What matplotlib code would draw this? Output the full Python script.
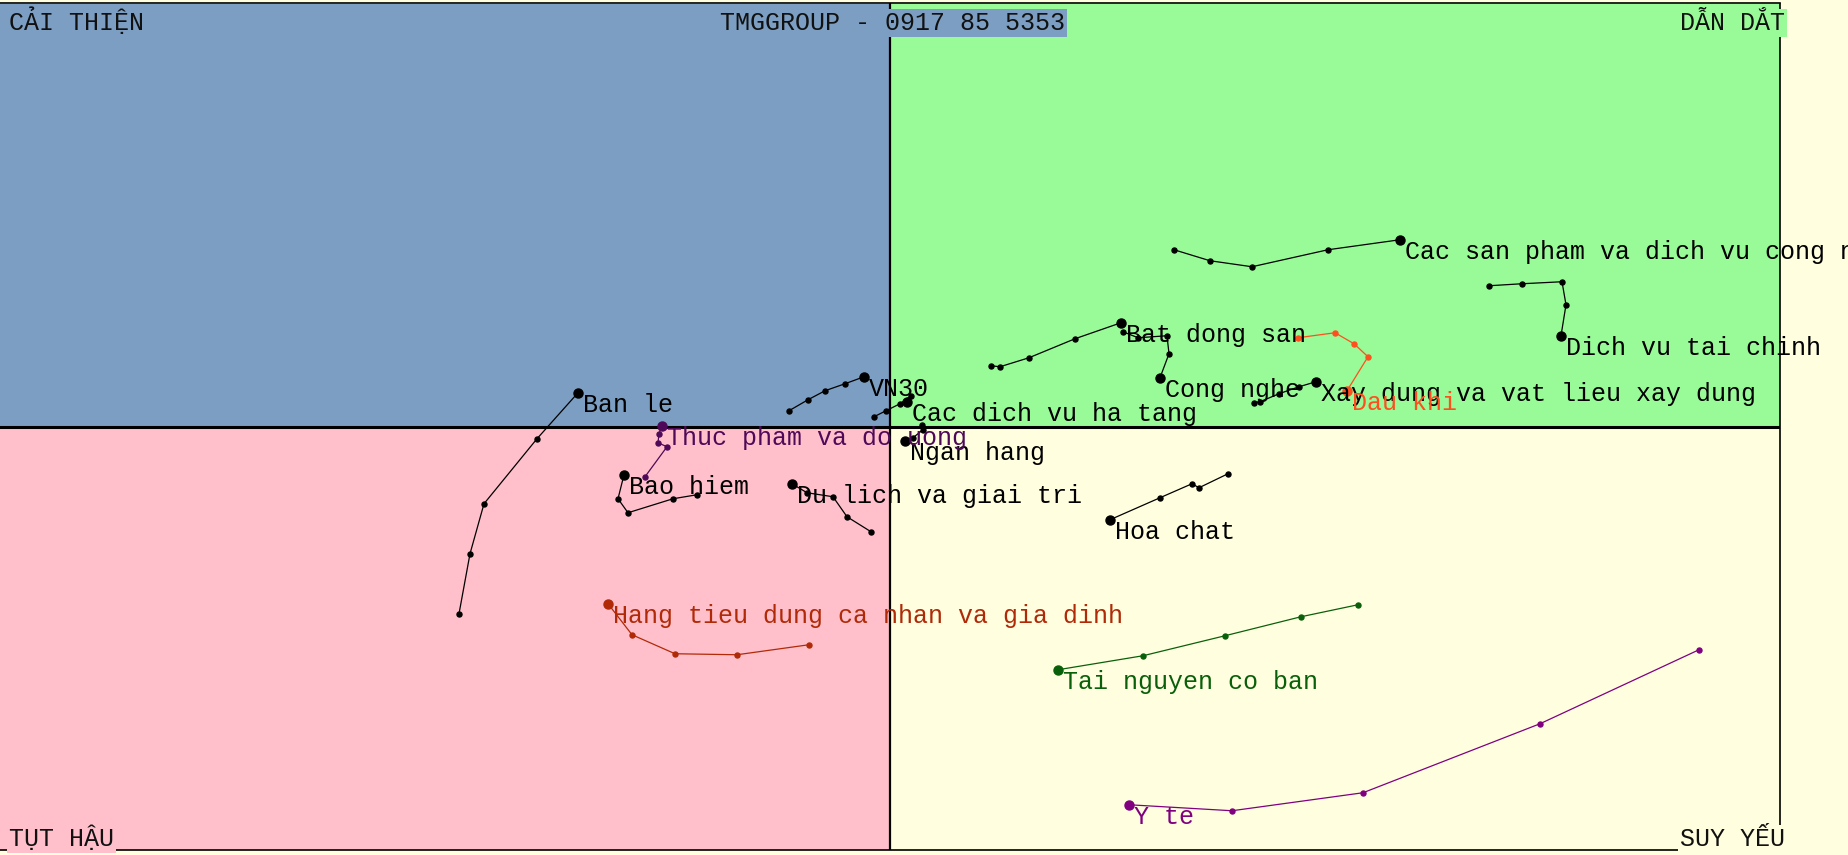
import matplotlib
matplotlib.use("Agg")
import matplotlib.pyplot as plt
from matplotlib.patches import Rectangle

FONT = ["Liberation Mono", "DejaVu Sans Mono"]

# ---- data (RS-ratio x, RS-momentum y), tail -> head ----
cac_san_pham_x = [102.84, 103.20, 103.62, 104.38, 105.10]
cac_san_pham_y = [101.77, 101.66, 101.60, 101.77, 101.87]
dich_vu_tai_chinh_x = [105.99, 106.32, 106.72, 106.76, 106.71]
dich_vu_tai_chinh_y = [101.41, 101.43, 101.45, 101.22, 100.91]
bat_dong_san_x = [101.01, 101.10, 101.39, 101.85, 102.31]
bat_dong_san_y = [100.61, 100.60, 100.69, 100.88, 101.04]
cong_nghe_x = [102.33, 102.48, 102.77, 102.79, 102.70]
cong_nghe_y = [100.95, 100.89, 100.91, 100.73, 100.49]
dau_khi_x = [104.08, 104.45, 104.64, 104.78, 104.57]
dau_khi_y = [100.89, 100.94, 100.83, 100.70, 100.36]
xay_dung_x = [103.64, 103.70, 103.89, 104.09, 104.26]
xay_dung_y = [100.24, 100.25, 100.33, 100.40, 100.45]
vn30_x = [98.99, 99.18, 99.35, 99.55, 99.74]
vn30_y = [100.16, 100.27, 100.36, 100.43, 100.50]
ha_tang_x = [99.84, 99.96, 100.10, 100.21, 100.17]
ha_tang_y = [100.10, 100.16, 100.23, 100.31, 100.25]
ngan_hang_x = [100.32, 100.33, 100.23, 100.15]
ngan_hang_y = [100.02, 99.97, 99.89, 99.86]
thuc_pham_x = [97.55, 97.77, 97.68, 97.69, 97.72]
thuc_pham_y = [99.50, 99.80, 99.84, 99.93, 100.01]
bao_hiem_x = [98.07, 97.83, 97.38, 97.28, 97.34]
bao_hiem_y = [99.32, 99.28, 99.14, 99.28, 99.52]
ban_le_x = [95.69, 95.80, 95.94, 96.47, 96.88]
ban_le_y = [98.13, 98.73, 99.23, 99.88, 100.34]
du_lich_x = [99.81, 99.57, 99.43, 99.17, 99.02]
du_lich_y = [98.95, 99.10, 99.30, 99.34, 99.43]
hoa_chat_x = [103.38, 103.09, 103.02, 102.70, 102.20]
hoa_chat_y = [99.53, 99.39, 99.43, 99.29, 99.07]
tai_nguyen_x = [104.68, 104.11, 103.35, 102.53, 101.68]
tai_nguyen_y = [98.22, 98.10, 97.91, 97.71, 97.57]
y_te_x = [108.09, 106.50, 104.73, 103.42, 102.39]
y_te_y = [97.77, 97.03, 96.34, 96.16, 96.22]
hang_tieu_dung_x = [99.19, 98.47, 97.85, 97.42, 97.18]
hang_tieu_dung_y = [97.82, 97.72, 97.73, 97.92, 98.23]

series = [
    ("Cac san pham va dich vu cong nghiep", cac_san_pham_x, cac_san_pham_y, "black"),
    ("Dich vu tai chinh", dich_vu_tai_chinh_x, dich_vu_tai_chinh_y, "black"),
    ("Bat dong san", bat_dong_san_x, bat_dong_san_y, "black"),
    ("Cong nghe", cong_nghe_x, cong_nghe_y, "black"),
    ("Xay dung va vat lieu xay dung", xay_dung_x, xay_dung_y, "black"),
    ("Dau khi", dau_khi_x, dau_khi_y, "#FF4F1F"),
    ("VN30", vn30_x, vn30_y, "black"),
    ("Cac dich vu ha tang", ha_tang_x, ha_tang_y, "black"),
    ("Ngan hang", ngan_hang_x, ngan_hang_y, "black"),
    ("Thuc pham va do uong", thuc_pham_x, thuc_pham_y, "#4E0A58"),
    ("Bao hiem", bao_hiem_x, bao_hiem_y, "black"),
    ("Ban le", ban_le_x, ban_le_y, "black"),
    ("Du lich va giai tri", du_lich_x, du_lich_y, "black"),
    ("Hoa chat", hoa_chat_x, hoa_chat_y, "black"),
    ("Tai nguyen co ban", tai_nguyen_x, tai_nguyen_y, "#0A5F0A"),
    ("Y te", y_te_x, y_te_y, "#800080"),
    ("Hang tieu dung ca nhan va gia dinh", hang_tieu_dung_x, hang_tieu_dung_y, "#B02A08"),
]

quadrant_labels = ["CẢI THIỆN", "DẪN DẮT", "TỤT HẬU", "SUY YẾU"]
watermark = "TMGGROUP - 0917 85 5353"

TL, TR, BL, BR = "#7B9EC2", "#98FB98", "#FFC0CB", "#FFFFE0"
CENTER = 100.0
XMIN, XMAX = 91.1, 108.9
YMIN, YMAX = 95.7675, 104.2325

W, H = 1848, 855
fig = plt.figure(figsize=(W / 100, H / 100), dpi=100, facecolor=BR)
ax = fig.add_axes([0, 5 / H, 1780 / W, 846.5 / H])
ax.set_xlim(XMIN, XMAX)
ax.set_ylim(YMIN, YMAX)
ax.set_facecolor(BR)
ax.add_patch(Rectangle((XMIN, CENTER), CENTER - XMIN, YMAX - CENTER, color=TL, zorder=0, lw=0))
ax.add_patch(Rectangle((CENTER, CENTER), XMAX - CENTER, YMAX - CENTER, color=TR, zorder=0, lw=0))
ax.add_patch(Rectangle((XMIN, YMIN), CENTER - XMIN, CENTER - YMIN, color=BL, zorder=0, lw=0))
ax.add_patch(Rectangle((CENTER, YMIN), XMAX - CENTER, CENTER - YMIN, color=BR, zorder=0, lw=0))
ax.axvline(CENTER, color="black", lw=1.6, zorder=1)
ax.axhline(CENTER, color="black", lw=2.2, zorder=1)
ax.set_xticks([])
ax.set_yticks([])
for s in ax.spines.values():
    s.set_linewidth(1.2)
    s.set_color("black")
ax.spines["left"].set_visible(False)

for name, xs, ys, col in series:
    ax.plot(xs, ys, color=col, lw=0.9, marker="o", ms=3.6, zorder=3)
    ax.plot(xs[-1], ys[-1], marker="o", ms=6.5, color=col, zorder=4)
    ax.annotate(name, xy=(xs[-1], ys[-1]), xytext=(5, -0.5), textcoords="offset pixels",
                ha="left", va="top", fontsize=18, family=FONT, color=col,
                annotation_clip=False, zorder=5)

def ftext(px, py, s, ha, fc):
    fig.text(px / W, 1 - py / H, s, ha=ha, va="baseline", fontsize=18, family=FONT,
             color="#111111", zorder=10,
             bbox=dict(boxstyle="square,pad=0.08", fc=fc, ec="none"))

ftext(9, 30, quadrant_labels[0], "left", TL)
ftext(892, 30, watermark, "center", TL)
ftext(1785, 30, quadrant_labels[1], "right", TR)
ftext(9, 846, quadrant_labels[2], "left", BL)
ftext(1785, 846, quadrant_labels[3], "right", BR)

fig.savefig("out.png", dpi=100, facecolor=fig.get_facecolor())
